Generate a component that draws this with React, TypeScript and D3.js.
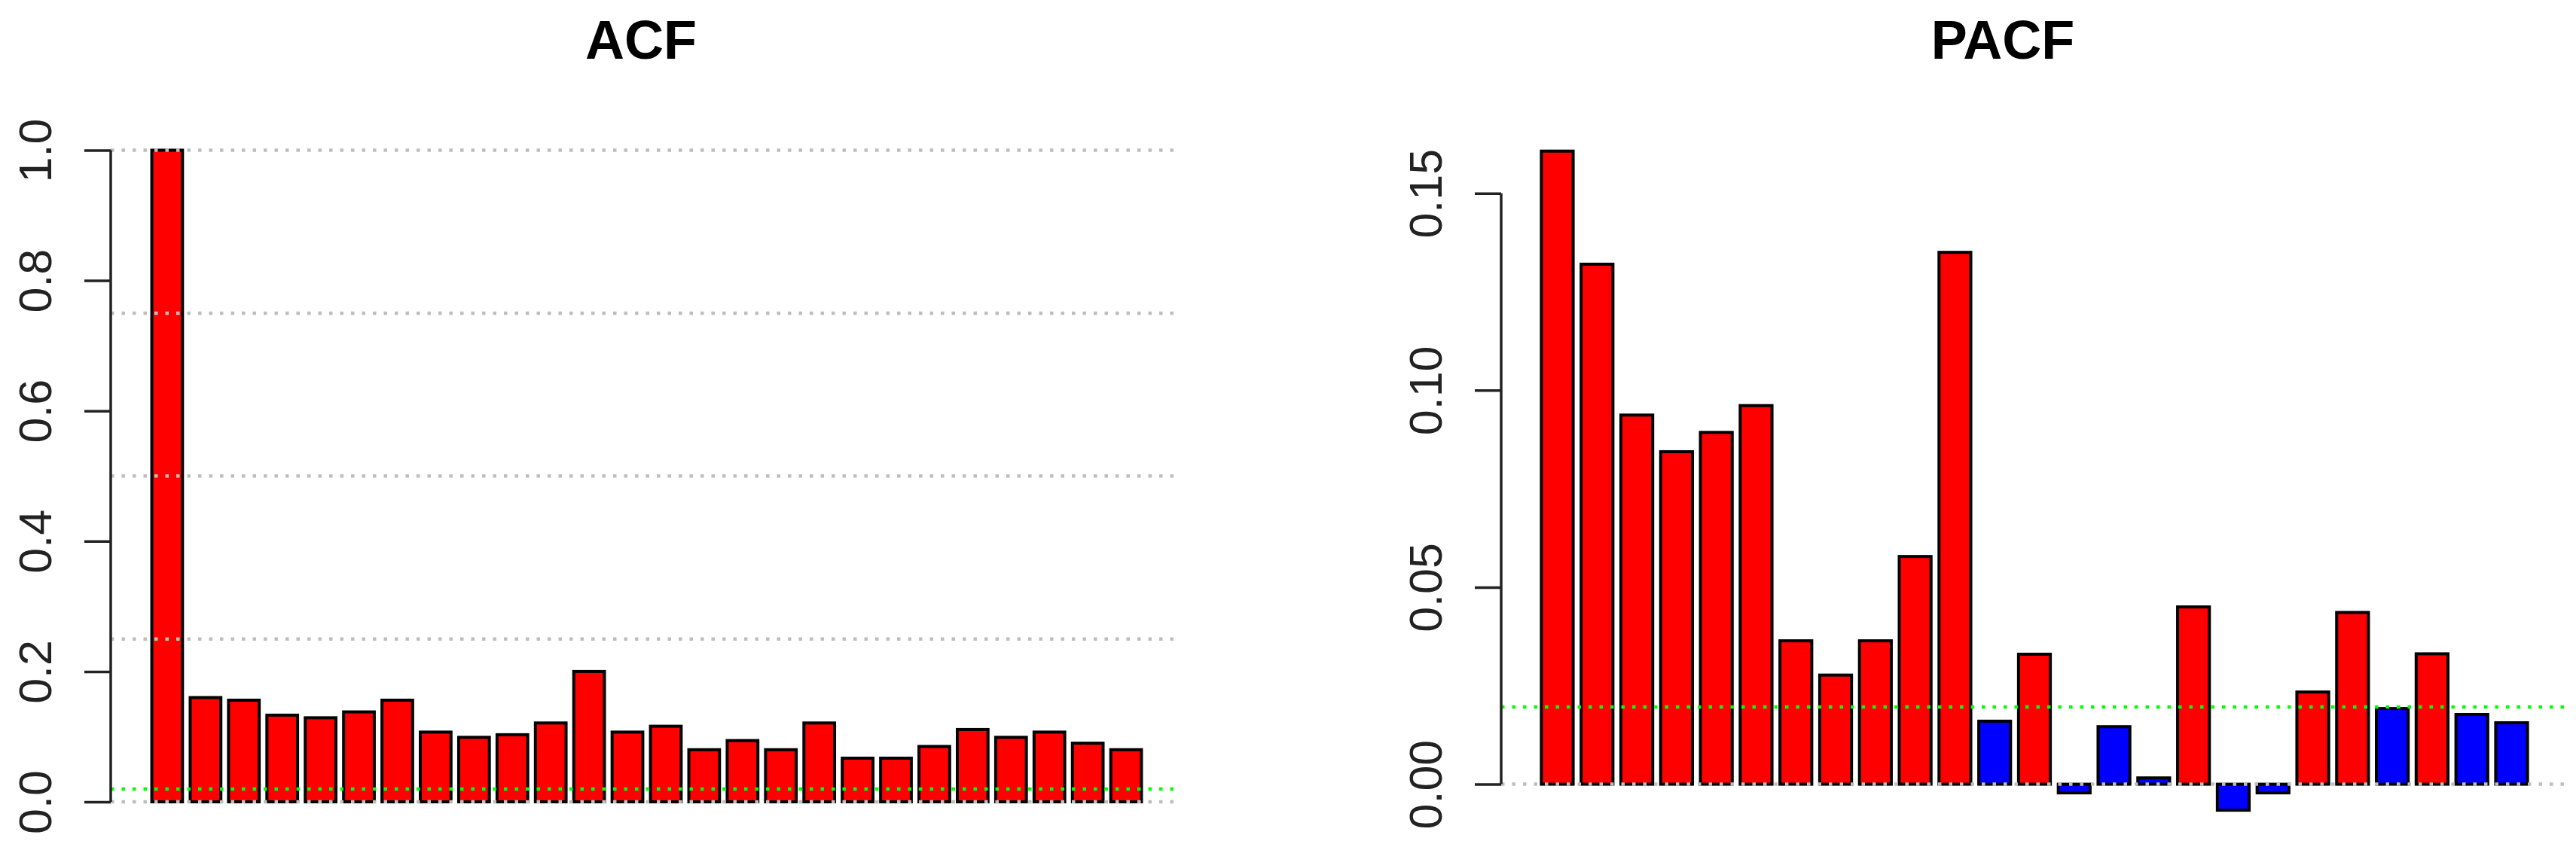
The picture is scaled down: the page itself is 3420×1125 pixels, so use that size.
import React, { useEffect, useRef } from 'react';
import * as d3 from 'd3';

// autocorrelations, lag 0..25
const ACF_VALUES = [1.0, 0.16, 0.156, 0.133, 0.129, 0.138, 0.156, 0.107, 0.099, 0.103, 0.121, 0.2, 0.107,
  0.116, 0.08, 0.094, 0.08, 0.121, 0.067, 0.067, 0.085, 0.111, 0.099, 0.107, 0.09, 0.08];
// partial autocorrelations, lag 1..25
const PACF_VALUES = [0.1607, 0.132, 0.0937, 0.0844, 0.0893, 0.0961, 0.0364, 0.0277, 0.0364, 0.0578, 0.135,
  0.016, 0.033, -0.0022, 0.0146, 0.0016, 0.045, -0.0066, -0.0022, 0.0234, 0.0436, 0.0192, 0.0331, 0.0177, 0.0156];
const ACF_TICKS = [0, 0.2, 0.4, 0.6, 0.8, 1.0];
const PACF_TICKS = [0, 0.05, 0.1, 0.15];
const GRID_LEVELS = [0, 0.25, 0.5, 0.75, 1];
const THRESHOLD = 0.0196;

const W = 3420, H = 1125;
const FONT = '"Liberation Sans", Arial, Helvetica, sans-serif';
const SPACE = 0.25;
const C = { red: '#ff0000', blue: '#0000ff', grid: '#bebebe', green: '#00ff00', axis: '#222' };

const PANELS = [
  { title: 'ACF', values: ACF_VALUES, ticks: ACF_TICKS, fmt: d3.format('.1f'), x0: 149, x1: 1568, axisX: 147,
    lineEnd: 1560, yDomain: [0, 1], yRange: [1065, 199.5], titleX: 851 },
  { title: 'PACF', values: PACF_VALUES, ticks: PACF_TICKS, fmt: d3.format('.2f'), x0: 1994, x1: 3408, axisX: 1993,
    lineEnd: 3408, yDomain: [0, 0.15], yRange: [1041.6, 256.7], titleX: 2659 },
];

export default function App() {
  const ref = useRef<SVGSVGElement>(null);
  useEffect(() => {
    const svg = d3.select(ref.current);
    svg.selectAll('*').remove();
    svg.append('rect').attr('width', W).attr('height', H).attr('fill', '#fff');

    PANELS.forEach(p => {
      const n = p.values.length;
      const span = n + (n - 1) * SPACE;
      const ext = 0.04 * span;
      const x = d3.scaleLinear().domain([SPACE - ext, SPACE + span + ext]).range([p.x0, p.x1]);
      const y = d3.scaleLinear().domain(p.yDomain).range(p.yRange);
      const lo = Math.min(0, d3.min(p.values)!), hi = Math.max(0, d3.max(p.values)!);
      const ylo = lo - 0.04 * (hi - lo), yhi = hi + 0.04 * (hi - lo);
      const g = svg.append('g');

      g.selectAll('rect.bar').data(p.values).join('rect').attr('class', 'bar')
        .attr('x', (d, i) => x(SPACE + i * (1 + SPACE)))
        .attr('width', x(1) - x(0))
        .attr('y', d => y(Math.max(0, d)))
        .attr('height', d => Math.abs(y(d) - y(0)))
        .attr('fill', d => (d > THRESHOLD ? C.red : C.blue))
        .attr('stroke', '#000').attr('stroke-width', 4);

      const hline = (v: number, col: string) => g.append('line')
        .attr('x1', p.axisX).attr('x2', p.lineEnd).attr('y1', y(v)).attr('y2', y(v))
        .attr('stroke', col).attr('stroke-width', 4.5).attr('stroke-dasharray', '4.5 10');
      GRID_LEVELS.filter(v => v >= ylo && v <= yhi).forEach(v => hline(v, C.grid));
      hline(THRESHOLD, C.green);

      const ax = g.append('g').attr('transform', `translate(${p.axisX},0)`)
        .call(d3.axisLeft(y).tickValues(p.ticks).tickFormat(p.fmt as any).tickSize(35).tickSizeOuter(0));
      ax.select('.domain').remove();
      ax.selectAll('.tick line').attr('stroke', C.axis).attr('stroke-width', 3.5);
      ax.selectAll('.tick text')
        .attr('x', null).attr('dy', null).attr('fill', C.axis)
        .attr('text-anchor', 'middle').attr('font-family', FONT).attr('font-size', 61)
        .attr('transform', 'translate(-79,0) rotate(-90)');
      ax.append('line')
        .attr('y1', y(d3.min(p.ticks)!)).attr('y2', y(d3.max(p.ticks)!))
        .attr('stroke', C.axis).attr('stroke-width', 3.5);

      svg.append('text').text(p.title)
        .attr('x', p.titleX).attr('y', 78).attr('text-anchor', 'middle')
        .attr('font-family', FONT).attr('font-weight', 'bold').attr('font-size', 72).attr('fill', '#000');
    });
  }, []);
  return <svg ref={ref} width={W} height={H} style={{ position: 'absolute', left: 0, top: 0, display: 'block' }} />;
}
